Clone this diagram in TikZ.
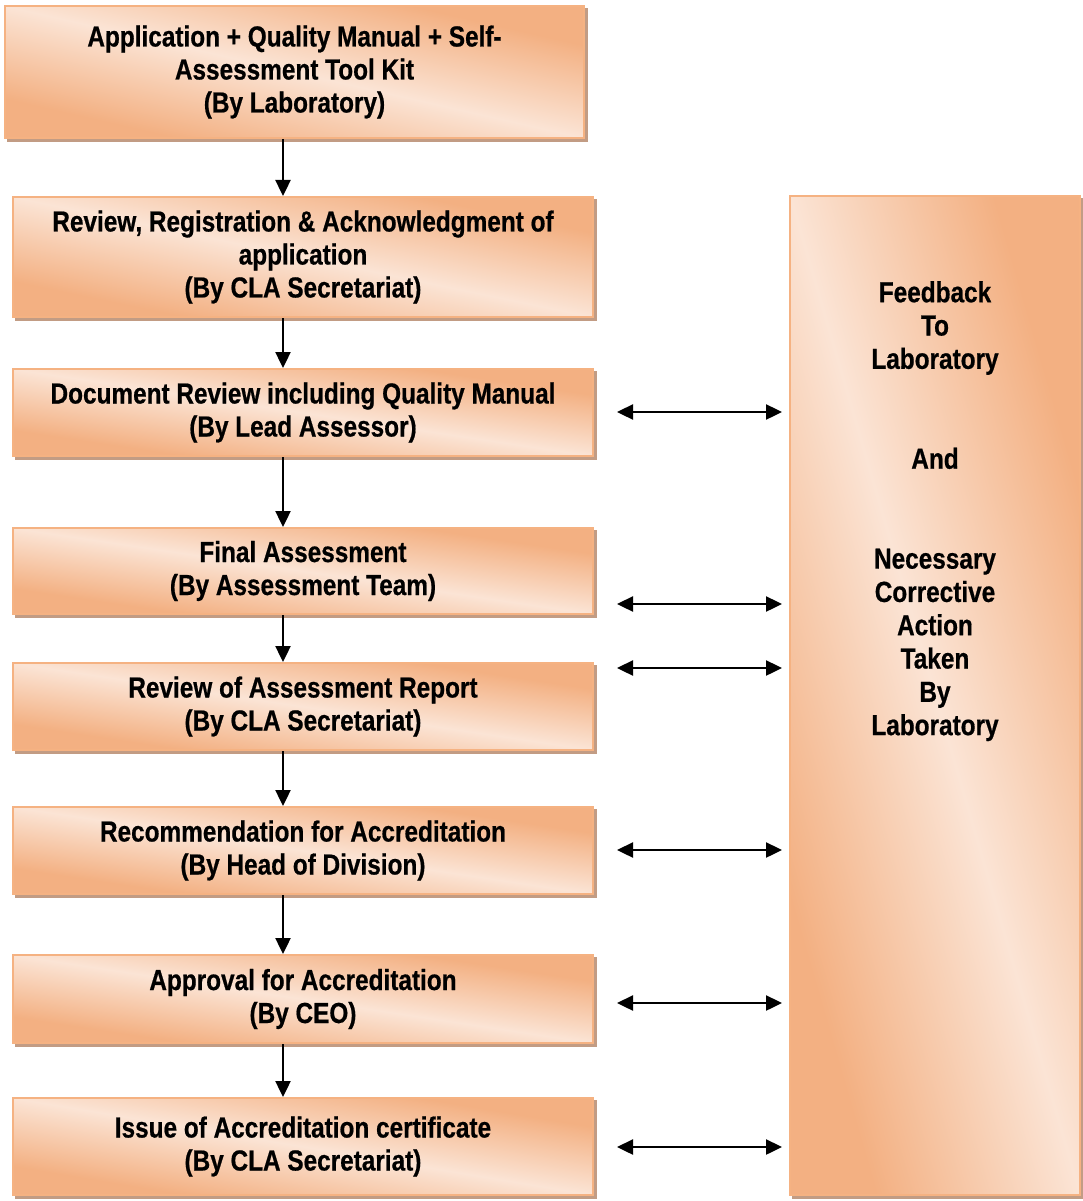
\documentclass[tikz,border=0pt]{standalone}
\usepackage{fontspec}
\setmainfont{Liberation Sans}[FakeStretch=0.84, BoldFeatures={FakeBold=0.6}]
\usetikzlibrary{arrows.meta,backgrounds,calc}
\definecolor{org}{RGB}{243,176,130}
\definecolor{lt}{RGB}{251,228,213}
\definecolor{bdr}{RGB}{245,178,130}
\definecolor{shd}{RGB}{194,156,132}
\tikzset{
  box/.style={draw=bdr, line width=2pt, align=center, inner sep=0pt,
    font=\bfseries\fontsize{29}{33}\selectfont},
  boxshade/.style={top color=org, bottom color=org, middle color=lt, shading angle=-45},
  fbtxt/.style={align=center, inner sep=0pt, anchor=north,
    font=\bfseries\fontsize{29}{33.3}\selectfont},
  arr/.style={line width=2.4pt, -{Triangle[length=16pt,width=15pt]}},
  darr/.style={line width=2.4pt, {Triangle[length=16pt,width=15pt]}-{Triangle[length=16pt,width=15pt]}, shorten >=7pt},
}
\begin{document}
\begin{tikzpicture}[x=1pt,y=-1pt]
\useasboundingbox (0,0) rectangle (1083,1201);
\node[box, minimum width=579pt, minimum height=132pt] (b1) at (294.5,72)
  {Application + Quality Manual + Self-\\Assessment Tool Kit\\(By Laboratory)};
\node[box, minimum width=580pt, minimum height=120pt] (b2) at (303,257)
  {Review, Registration \& Acknowledgment of\\application\\(By CLA Secretariat)};
\node[box, minimum width=580pt, minimum height=87pt] (b3) at (303,412.5)
  {Document Review including Quality Manual\\(By Lead Assessor)};
\node[box, minimum width=580pt, minimum height=86pt] (b4) at (303,571)
  {Final Assessment\\(By Assessment Team)};
\node[box, minimum width=580pt, minimum height=87pt] (b5) at (303,706.5)
  {Review of Assessment Report\\(By CLA Secretariat)};
\node[box, minimum width=580pt, minimum height=87pt] (b6) at (303,850.5)
  {Recommendation for Accreditation\\(By Head of Division)};
\node[box, minimum width=580pt, minimum height=88pt] (b7) at (303,999)
  {Approval for Accreditation\\(By CEO)};
\node[box, minimum width=580pt, minimum height=97pt] (b8) at (303,1146.5)
  {Issue of Accreditation certificate\\(By CLA Secretariat)};
\node[box, minimum width=290pt, minimum height=999pt] (fb) at (935,695.5) {};
\node[fbtxt] (fbt) at (935,281)
  {Feedback\\To\\Laboratory\\[66.6pt]And\\[66.6pt]Necessary\\Corrective\\Action\\Taken\\By\\Laboratory};
\begin{scope}[on background layer]
  \foreach \n/\w/\h in {b1/579/132,b2/580/120,b3/580/87,b4/580/86,b5/580/87,b6/580/87,b7/580/88,b8/580/97,fb/290/999}{
    \fill[shd] ($(\n.south west)+(3,3)$) rectangle ($(\n.north east)+(3,3)$);
    \shade[boxshade, transform canvas={shift={(\n.center)}, xscale=\w/100, yscale=\h/100}]
      (-50pt,-50pt) rectangle (50pt,50pt);
  }
\end{scope}
\coordinate (ax) at (283,0);
\draw[arr] (b1.south -| ax) -- (b2.north -| ax);
\draw[arr] (b2.south -| ax) -- (b3.north -| ax);
\draw[arr] (b3.south -| ax) -- (b4.north -| ax);
\draw[arr] (b4.south -| ax) -- (b5.north -| ax);
\draw[arr] (b5.south -| ax) -- (b6.north -| ax);
\draw[arr] (b6.south -| ax) -- (b7.north -| ax);
\draw[arr] (b7.south -| ax) -- (b8.north -| ax);
\coordinate (d1) at (617,412);
\coordinate (d2) at (617,604);
\coordinate (d3) at (617,668);
\coordinate (d4) at (617,850);
\coordinate (d5) at (617,1003);
\coordinate (d6) at (617,1147);
\foreach \d in {d1,d2,d3,d4,d5,d6}
  \draw[darr] (\d) -- (fb.west |- \d);
\end{tikzpicture}
\end{document}
